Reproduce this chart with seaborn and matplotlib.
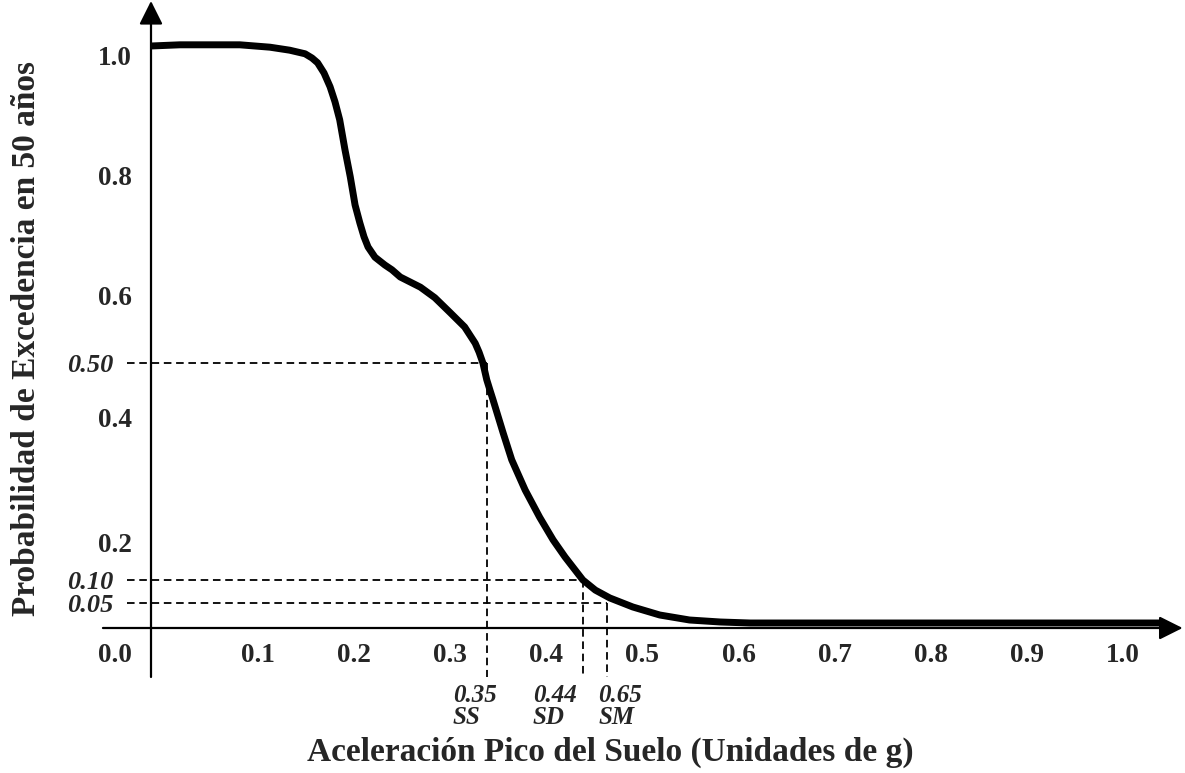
import numpy as np
import matplotlib
matplotlib.use("Agg")
import matplotlib.pyplot as plt
import seaborn as sns

# --- curva de peligro ---
pga = [0.000, 0.027, 0.083, 0.1125, 0.133, 0.149, 0.1562, 0.162, 0.1687, 0.175,
       0.1801, 0.185, 0.1905, 0.196, 0.201, 0.206, 0.2103, 0.2145, 0.2217, 0.232,
       0.2394, 0.248, 0.269, 0.284, 0.300, 0.315, 0.326, 0.330, 0.334, 0.338,
       0.3413, 0.3445, 0.355, 0.364, 0.378, 0.393, 0.407, 0.4195, 0.438, 0.451,
       0.466, 0.490, 0.518, 0.549, 0.581, 0.612, 0.800, 1.038]
prob = [1.015, 1.017, 1.017, 1.013, 1.008, 1.002, 0.995, 0.987, 0.970, 0.947,
        0.922, 0.892, 0.842, 0.797, 0.750, 0.720, 0.697, 0.680, 0.663, 0.650,
        0.642, 0.630, 0.613, 0.596, 0.574, 0.553, 0.529, 0.516, 0.500, 0.469,
        0.450, 0.432, 0.375, 0.332, 0.284, 0.241, 0.205, 0.162, 0.100, 0.078,
        0.061, 0.042, 0.026, 0.016, 0.012, 0.010, 0.010, 0.010]

# niveles de probabilidad y aceleraciones de diseño
niveles = [0.50, 0.10, 0.05]
niveles_txt = ["0.50", "0.10", "0.05"]
pga_diseno = [0.338, 0.438, 0.463]
pga_txt = ["0.35", "0.44", "0.65"]
sismos = ["SS", "SD", "SM"]

x_ticks = [0.1, 0.2, 0.3, 0.4, 0.5, 0.6, 0.7, 0.8, 0.9, 1.0]
y_ticks = [0.2, 0.4, 0.6, 0.8, 1.0]

# --- escalas no uniformes del dibujo original (valor -> pixeles desde el eje) ---
X_KNOTS = [-1.0, 0.0, 0.1, 1.0, 2.0]
X_PX = [-961, 0, 107, 972, 1933]
Y_KNOTS = [-1.0, 0.0, 0.05, 0.10, 0.20, 0.40, 0.50, 0.60, 0.80, 1.00, 2.00]
Y_PX = [-500, 0, 25, 48, 85, 211, 265, 333, 453, 573, 1173]

fx = lambda v: np.interp(v, X_KNOTS, X_PX)
ix = lambda p: np.interp(p, X_PX, X_KNOTS)
fy = lambda v: np.interp(v, Y_KNOTS, Y_PX)
iy = lambda p: np.interp(p, Y_PX, Y_KNOTS)

sns.set_style("white")
plt.rcParams["font.family"] = ["Liberation Serif", "DejaVu Serif"]
plt.rcParams["font.weight"] = "bold"

fig = plt.figure(figsize=(11.85, 7.73), dpi=100)
ax = fig.add_axes([0, 0, 1, 1])
ax.set_xscale("function", functions=(fx, ix))
ax.set_yscale("function", functions=(fy, iy))

sns.lineplot(x=pga, y=prob, ax=ax, color="black", lw=5, sort=False,
             estimator=None, solid_joinstyle="round", solid_capstyle="butt")

# limites: el origen queda en (151, 628) px
ax.set_xlim(ix(-151), ix(1034))
ax.set_ylim(iy(-145), iy(628))

# --- ejes con flecha ---
arrow = dict(arrowstyle="-|>,head_length=0.8,head_width=0.4", color="black",
             lw=1.6, mutation_scale=18, shrinkA=0, shrinkB=0)
ax.annotate("", xy=(1.062, 0), xytext=(-0.05, 0), arrowprops=arrow)
ax.annotate("", xy=(0, 1.09), xytext=(0, -0.098), arrowprops=arrow)

for s in ax.spines.values():
    s.set_visible(False)
ax.spines["left"].set_position(("data", 0))
ax.spines["bottom"].set_position(("data", 0))

ax.set_xticks(x_ticks)
ax.set_xticklabels([f"{t:.1f}" for t in x_ticks])
ax.set_yticks(y_ticks)
ax.set_yticklabels([f"{t:.1f}" for t in y_ticks])
ax.tick_params(axis="both", length=0, labelsize=19.5)
ax.tick_params(axis="x", pad=11)
ax.tick_params(axis="y", pad=13.5)
ax.minorticks_off()
ax.grid(False)

# --- lineas punteadas ---
dash = dict(color="black", lw=1.3, linestyle=(0, (4.2, 2.6)))
x_ini = -0.025
y_fin = -0.098
txt_dx = [-24.5, -36, -6]   # desplazamiento (pt) del texto bajo cada linea
for lev, ltxt, xd, xtxt, nom, dx in zip(niveles, niveles_txt, pga_diseno,
                                        pga_txt, sismos, txt_dx):
    ax.plot([x_ini, xd], [lev, lev], **dash)
    ax.plot([xd, xd], [lev, y_fin], **dash)
    ax.annotate(ltxt, xy=(x_ini, lev), xytext=(-10, -1.5),
                textcoords="offset points", ha="right", va="center",
                fontsize=19, style="italic", fontweight="bold")
    ax.annotate(xtxt, xy=(xd, 0), xytext=(dx, -48.5),
                textcoords="offset points", ha="left", va="center",
                fontsize=18, style="italic", fontweight="bold")
    ax.annotate(nom, xy=(xd, 0), xytext=(dx, -64.5),
                textcoords="offset points", ha="left", va="center",
                fontsize=18, style="italic", fontweight="bold")

ax.annotate("0.0", xy=(0, 0), xytext=(-26, -19.5), textcoords="offset points",
            ha="center", va="center", fontsize=19.5, fontweight="bold")

fig.text(610 / 1185, 1 - 752 / 773, "Aceleración Pico del Suelo (Unidades de g)",
         ha="center", va="center", fontsize=24, fontweight="bold")
fig.text(27 / 1185, 1 - 338 / 773, "Probabilidad de Excedencia en 50 años",
         ha="center", va="center", rotation=90, fontsize=24, fontweight="bold")

fig.savefig("out.png", dpi=100, facecolor="white")
plt.close(fig)
